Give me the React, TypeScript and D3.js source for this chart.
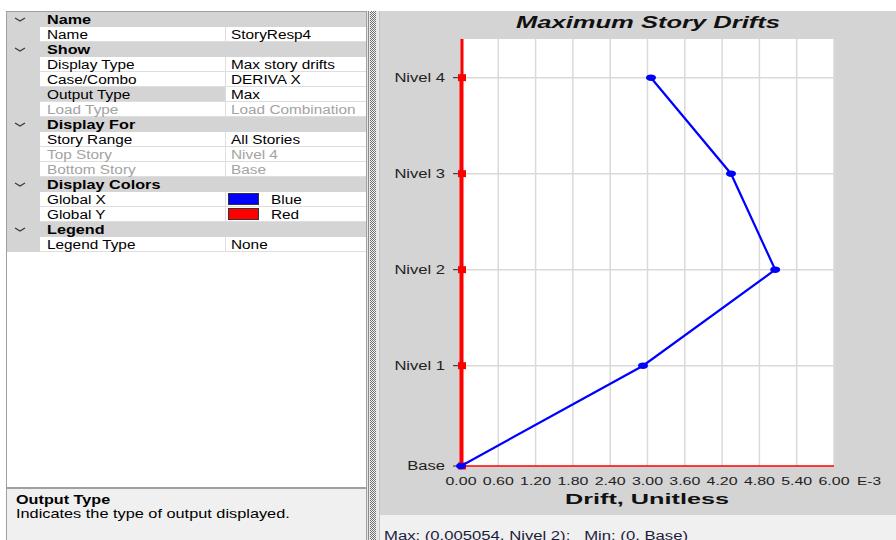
import React from "react";
import * as d3 from "d3";

// Story levels and drift results (drift is unitless; axis shown in E-3)
const stories = ["Base", "Nivel 1", "Nivel 2", "Nivel 3", "Nivel 4"];
const elevations = [0, 3.5, 6.85, 10.2, 13.55];
const driftGlobalX = [0, 0.002928, 0.005054, 0.004343, 0.003056];
const driftGlobalY = [0, 0, 0, 0, 0];
const xTickValues = [0, 0.0006, 0.0012, 0.0018, 0.0024, 0.003, 0.0036, 0.0042, 0.0048, 0.0054, 0.006];

// Property grid content
type Row = { kind: "group" | "item"; label: string; value?: string; disabled?: boolean; selected?: boolean; swatch?: string };
const gridRows: Row[] = [
  { kind: "group", label: "Name" },
  { kind: "item", label: "Name", value: "StoryResp4" },
  { kind: "group", label: "Show" },
  { kind: "item", label: "Display Type", value: "Max story drifts" },
  { kind: "item", label: "Case/Combo", value: "DERIVA X" },
  { kind: "item", label: "Output Type", value: "Max", selected: true },
  { kind: "item", label: "Load Type", value: "Load Combination", disabled: true },
  { kind: "group", label: "Display For" },
  { kind: "item", label: "Story Range", value: "All Stories" },
  { kind: "item", label: "Top Story", value: "Nivel 4", disabled: true },
  { kind: "item", label: "Bottom Story", value: "Base", disabled: true },
  { kind: "group", label: "Display Colors" },
  { kind: "item", label: "Global X", value: "Blue", swatch: "#0000ff" },
  { kind: "item", label: "Global Y", value: "Red", swatch: "#ff0000" },
  { kind: "group", label: "Legend" },
  { kind: "item", label: "Legend Type", value: "None" },
];

const FONT = "Arial, 'Liberation Sans', sans-serif";

function T(props: {
  x: number; y: number; children: React.ReactNode; sx?: number; anchor?: string;
  weight?: string | number; size?: number; fill?: string; italic?: boolean; len?: number;
}) {
  const { x, y, children, sx = 1.28, anchor = "start", weight = "normal", size = 12, fill = "#000", italic = false, len } = props;
  if (len) {
    return (
      <text x={x} y={y} textAnchor={anchor as any} fontFamily={FONT} fontSize={size} fontWeight={weight}
        fontStyle={italic ? "italic" : "normal"} fill={fill} textLength={len} lengthAdjust="spacingAndGlyphs"
        style={{ whiteSpace: "pre" }}>
        {children}
      </text>
    );
  }
  return (
    <text transform={`translate(${x},${y}) scale(${sx},1)`} textAnchor={anchor as any} fontFamily={FONT}
      fontSize={size} fontWeight={weight} fontStyle={italic ? "italic" : "normal"} fill={fill}>
      {children}
    </text>
  );
}

function PropertyGrid() {
  const top = 12;
  const rh = 15;
  const left = 6, right = 367, split = 225, gutter = 40;
  return (
    <g>
      <rect x={left + 0.5} y={11.5} width={right - left - 1} height={476} fill="#fff" stroke="#a0a0a0" />
      {gridRows.map((r, i) => {
        const y = top + i * rh;
        const cy = y + rh / 2;
        if (r.kind === "group") {
          return (
            <g key={i}>
              <rect x={left + 1} y={y} width={right - left - 2} height={rh} fill="#d4d4d4" />
              <path d={`M15,${cy - 1.5} L20,${cy + 1.5} L25,${cy - 1.5}`} fill="none" stroke="#3c3c3c" strokeWidth={1.4} />
              <T x={47} y={cy + 4.5} weight="bold" sx={1.35}>{r.label}</T>
            </g>
          );
        }
        const col = r.disabled ? "#a3a3a3" : "#000";
        return (
          <g key={i}>
            <rect x={left + 1} y={y} width={gutter - left - 1} height={rh} fill="#d4d4d4" />
            <rect x={gutter} y={y} width={split - gutter} height={rh} fill={r.selected ? "#d4d4d4" : "#fff"} />
            <rect x={split} y={y} width={right - 1 - split} height={rh} fill="#fff" />
            <line x1={gutter} x2={right - 1} y1={y + rh - 0.5} y2={y + rh - 0.5} stroke="#dedede" />
            <line x1={split + 0.5} x2={split + 0.5} y1={y} y2={y + rh} stroke="#dedede" />
            <T x={47} y={cy + 4.5} fill={col}>{r.label}</T>
            {r.swatch ? (
              <g>
                <rect x={228.5} y={y + 1.5} width={30} height={11} fill={r.swatch} stroke="#333" />
                <T x={271} y={cy + 4.5} fill={col}>{r.value}</T>
              </g>
            ) : (
              <T x={231} y={cy + 4.5} fill={col}>{r.value}</T>
            )}
          </g>
        );
      })}
      {/* description box */}
      <rect x={left + 0.5} y={488.5} width={right - left - 1} height={60} fill="#f0f0f0" stroke="#a0a0a0" />
      <T x={16} y={504} weight="bold" sx={1.35}>Output Type</T>
      <T x={16} y={518} sx={1.36}>Indicates the type of output displayed.</T>
    </g>
  );
}

function Splitter() {
  return (
    <g>
      <defs>
        <pattern id="grip" width={2} height={2} patternUnits="userSpaceOnUse">
          <rect width={2} height={2} fill="#f2f2f2" />
          <rect width={1} height={1} fill="#6e6e6e" />
          <rect x={1} y={1} width={1} height={1} fill="#6e6e6e" />
        </pattern>
      </defs>
      <rect x={367} y={11} width={13} height={529} fill="#e6e6e6" />
      <line x1={368.5} x2={368.5} y1={11} y2={540} stroke="#8a8a8a" />
      <rect x={370} y={11} width={6} height={529} fill="url(#grip)" />
      <line x1={379.5} x2={379.5} y1={11} y2={540} stroke="#c4c4c4" />
    </g>
  );
}

function DriftChart() {
  const plot = { left: 461, right: 834, top: 39, bottom: 466 };
  const x = d3.scaleLinear().domain([0, 0.006]).range([plot.left, plot.right]);
  const y = d3.scaleLinear().domain([0, 14.9]).range([plot.bottom, plot.top]);
  const ptsX = stories.map((s, i) => [driftGlobalX[i], elevations[i]] as [number, number]);
  const ptsY = stories.map((s, i) => [driftGlobalY[i], elevations[i]] as [number, number]);
  const line = d3.line<[number, number]>().x((d) => x(d[0])).y((d) => y(d[1]));
  const fmt = (v: number) => (v * 1000).toFixed(2);

  return (
    <g>
      <rect x={380} y={11} width={516} height={504} fill="#d4d4d4" />
      <rect x={380} y={515} width={516} height={25} fill="#f0f0f0" />
      <T x={384} y={540} len={304} fill="#1c1c3c">{"Max: (0.005054, Nivel 2);   Min: (0, Base)"}</T>

      <T x={648} y={28} anchor="middle" weight="bold" italic size={16} len={264} fill="#111">Maximum Story Drifts</T>

      <rect x={plot.left} y={plot.top} width={plot.right - plot.left} height={plot.bottom - plot.top} fill="#fff" />
      {xTickValues.slice(1).map((v, i) => (
        <line key={i} x1={x(v)} x2={x(v)} y1={plot.top} y2={plot.bottom} stroke="#dadada" strokeWidth={1.5} />
      ))}
      {elevations.slice(1).map((e, i) => (
        <line key={i} x1={plot.left} x2={plot.right} y1={y(e)} y2={y(e)} stroke="#dadada" strokeWidth={1.5} />
      ))}

      {/* x axis line */}
      <line x1={plot.left} x2={plot.right} y1={plot.bottom} y2={plot.bottom} stroke="#ff0000" strokeWidth={1.5} />

      {/* story ticks and labels */}
      {stories.map((s, i) => (
        <g key={s}>
          <line x1={453} x2={458} y1={y(elevations[i])} y2={y(elevations[i])} stroke="#222" strokeWidth={1} />
          <T x={445} y={y(elevations[i]) + 4} anchor="end" sx={1.38} fill="#222">{s}</T>
        </g>
      ))}

      {xTickValues.map((v, i) => (
        <T key={i} x={x(v)} y={485} anchor="middle" size={11} len={31} fill="#222">{fmt(v)}</T>
      ))}
      <T x={857} y={485} size={11} len={24} fill="#222">E-3</T>
      <T x={647} y={504} anchor="middle" weight="bold" size={15} len={164} fill="#111">Drift, Unitless</T>

      {/* Global Y */}
      <line x1={x(0) + 1} x2={x(0) + 1} y1={plot.top} y2={plot.bottom} stroke="#ff0000" strokeWidth={3} />
      <path d={line(ptsY) || ""} fill="none" stroke="#ff0000" strokeWidth={3} />
      {ptsY.map((p, i) => (
        <rect key={i} x={x(p[0]) - 3} y={y(p[1]) - 3.5} width={8} height={7} fill="#ff0000" />
      ))}

      {/* Global X */}
      <path d={line(ptsX) || ""} fill="none" stroke="#0000ff" strokeWidth={2.2} />
      {ptsX.map((p, i) => (
        <ellipse key={i} cx={x(p[0])} cy={y(p[1])} rx={5} ry={3.3} fill="#0000ff" />
      ))}
    </g>
  );
}

export default function App() {
  return (
    <div style={{ position: "absolute", left: 0, top: 0, width: 896, height: 540, overflow: "hidden", background: "#fff" }}>
      <svg width={896} height={540} viewBox="0 0 896 540" style={{ display: "block" }}>
        <rect width={896} height={540} fill="#fff" />
        <PropertyGrid />
        <Splitter />
        <DriftChart />
      </svg>
    </div>
  );
}
